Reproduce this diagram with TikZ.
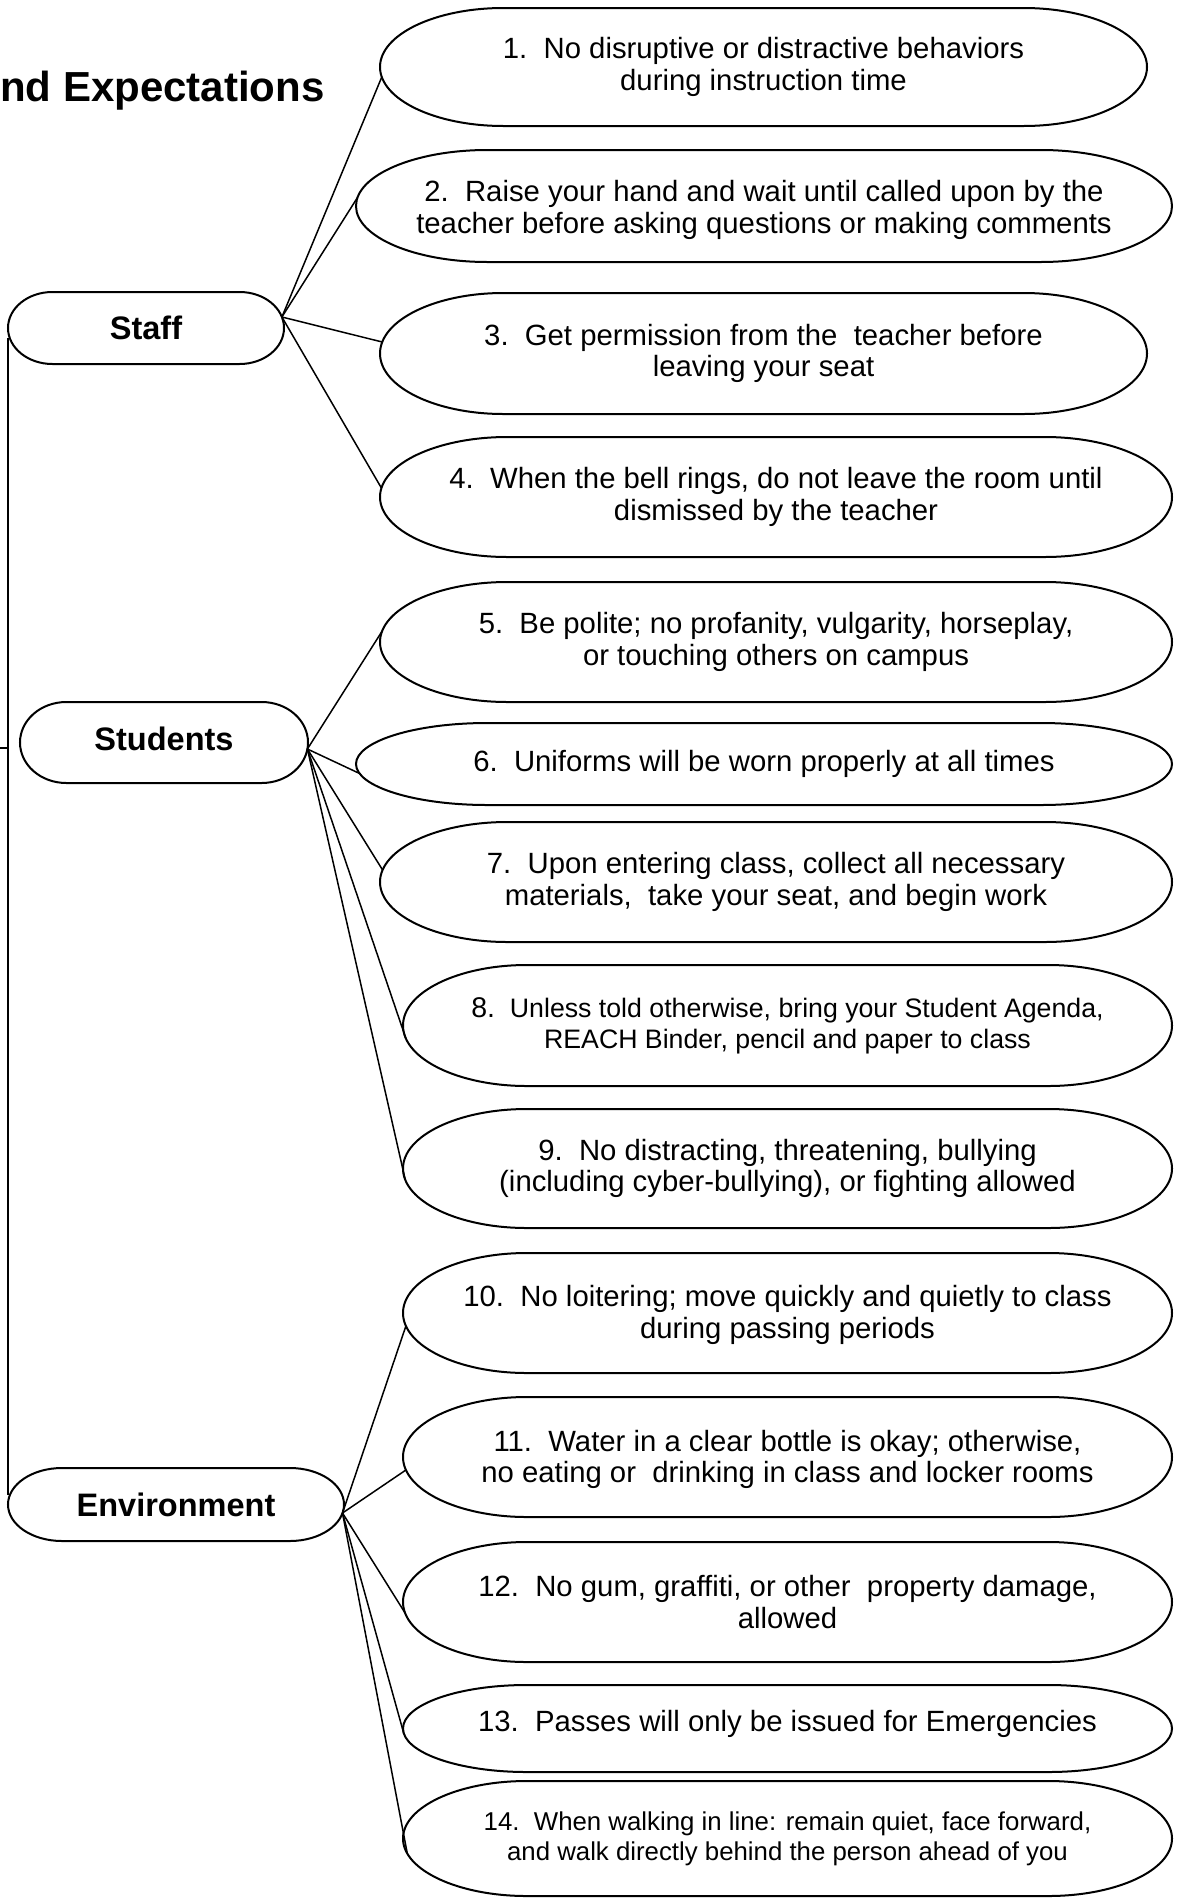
\documentclass[tikz,border=0pt]{standalone}
\usepackage{fontspec}
\setmainfont{Liberation Sans}
\usetikzlibrary{calc}

\tikzset{
  itembox/.style={shape=rectangle, inner sep=0pt, outer sep=0pt, align=center,
    font=\fontsize{29.3}{31.5}\selectfont},
  catbox/.style={shape=rectangle, inner sep=0pt, outer sep=0pt,
    font=\bfseries\fontsize{32.5}{38}\selectfont},
  outline/.style={draw=black, line width=2pt},
  conn/.style={draw=black, line width=1.5pt},
}

% invisible struts used to nudge a node's text up (depth) or down (height)
\newcommand\updepth[1]{\rule[-#1]{0pt}{1pt}}
\newcommand\dnheight[1]{\rule{0pt}{#1}}

% terminator outline (elliptic ends, straight top and bottom) round a named node
\newcommand\termpath[1]{%
  \draw[outline] let \p1=(#1.north west), \p2=(#1.south east),
     \n1={0.1609*(\x2-\x1)}, \n2={0.5*(\y1-\y2)} in
     ({\x1+\n1},\y1) -- ({\x2-\n1},\y1)
     arc[start angle=90, end angle=-90, x radius=\n1, y radius=\n2]
     -- ({\x1+\n1},\y2)
     arc[start angle=270, end angle=90, x radius=\n1, y radius=\n2]
     -- cycle;}

\begin{document}
\begin{tikzpicture}[x=1pt,y=-1pt]
\fill[white] (0,0) rectangle (1180,1898);
\useasboundingbox (0,0) rectangle (1180,1898);

% title (cropped on the left)
\node[anchor=base west, inner sep=0pt, font=\bfseries\fontsize{42}{50}\selectfont] (title) at (0,101) {nd Expectations};

% category nodes
\node[catbox, minimum width=276pt, minimum height=72pt] (staff) at (146,328) {Staff};
\node[catbox, minimum width=288pt, minimum height=81pt] (students) at (164,742.5) {Students\updepth{8pt}};
\node[catbox, minimum width=336pt, minimum height=73pt] (env) at (176,1504.5) {Environment};

% item nodes
\node[itembox, minimum width=767pt, minimum height=118pt] (i1) at (763.5,67)
  {1.~~No disruptive or distractive behaviors\\during instruction time};
\node[itembox, minimum width=816pt, minimum height=112pt] (i2) at (764,206)
  {\dnheight{29pt}2.~~Raise your hand and wait until called upon by the\\teacher before asking questions or making comments};
\node[itembox, minimum width=767pt, minimum height=121pt] (i3) at (763.5,353.5)
  {3.~~Get permission from the~~teacher before\\leaving your seat};
\node[itembox, minimum width=792pt, minimum height=120pt] (i4) at (776,497)
  {4.~~When the bell rings, do not leave the room until\\dismissed by the teacher};
\node[itembox, minimum width=792pt, minimum height=120pt] (i5) at (776,642)
  {5.~~Be polite; no profanity, vulgarity, horseplay,\\or touching others on campus};
\node[itembox, minimum width=816pt, minimum height=82pt] (i6) at (764,764)
  {6.~~Uniforms will be worn properly at all times};
\node[itembox, minimum width=792pt, minimum height=120pt] (i7) at (776,882)
  {7.~~Upon entering class, collect all necessary\\materials,~~take your seat, and begin work};
\node[itembox, minimum width=769pt, minimum height=121pt, font=\fontsize{26.7}{31}\selectfont] (i8) at (787.5,1025.5)
  {{\fontsize{28.5}{31}\selectfont 8.}~~Unless told otherwise, bring your Student Agenda,\\REACH Binder, pencil and paper to class};
\node[itembox, minimum width=769pt, minimum height=119pt] (i9) at (787.5,1168.5)
  {9.~~No distracting, threatening, bullying\\(including cyber-bullying), or fighting allowed};
\node[itembox, minimum width=769pt, minimum height=120pt] (i10) at (787.5,1313)
  {\dnheight{25pt}10.~~No loitering; move quickly and quietly to class\\during passing periods};
\node[itembox, minimum width=769pt, minimum height=120pt] (i11) at (787.5,1457)
  {\dnheight{26pt}11.~~Water in a clear bottle is okay; otherwise,\\no eating or~~drinking in class and locker rooms};
\node[itembox, minimum width=769pt, minimum height=120pt] (i12) at (787.5,1602)
  {12.~~No gum, graffiti, or other~~property damage,\\allowed};
\node[itembox, minimum width=769pt, minimum height=87pt] (i13) at (787.5,1728.5)
  {13.~~Passes will only be issued for Emergencies\updepth{16pt}};
\node[itembox, minimum width=769pt, minimum height=115pt, font=\fontsize{25.8}{30}\selectfont] (i14) at (787.5,1838.5)
  {14.~~When walking in line: remain quiet, face forward,\\and walk directly behind the person ahead of you};

% outlines
\foreach \nd in {staff,students,env,i1,i2,i3,i4,i5,i6,i7,i8,i9,i10,i11,i12,i13,i14}
  {\termpath{\nd}}

% left bracket from the (cropped) root
\coordinate (root) at (0,748);
\draw[conn] ([yshift=-10pt]staff.west) -- ([yshift=10pt]env.west);
\draw[conn] (root) -- (root -| staff.west);

% hubs
\coordinate (sthub) at ([xshift=-2.1pt,yshift=11pt]staff.east);
\coordinate (suhub) at ([xshift=-0.6pt,yshift=-6.5pt]students.east);
\coordinate (enhub) at ([xshift=-1.5pt,yshift=-8.5pt]env.east);

% connectors
\draw[conn] (sthub) -- ([xshift=1.8pt,yshift=-10pt]i1.west);
\draw[conn] (sthub) -- ([xshift=1.5pt,yshift=8.5pt]i2.west);
\draw[conn] (sthub) -- ([xshift=2.2pt,yshift=11.5pt]i3.west);
\draw[conn] (sthub) -- ([xshift=1.4pt,yshift=9pt]i4.west);

\draw[conn] (suhub) -- ([xshift=2.2pt,yshift=11pt]i5.west);
\draw[conn] (suhub) -- ([xshift=3.6pt,yshift=-9.5pt]i6.west);
\draw[conn] (suhub) -- ([xshift=2.6pt,yshift=12pt]i7.west);
\draw[conn] (suhub) -- ([xshift=2.7pt,yshift=-12.5pt]i8.west);
\draw[conn] (suhub) -- ([xshift=2.3pt,yshift=-11.5pt]i9.west);

\draw[conn] (enhub) -- ([xshift=2.9pt,yshift=-13pt]i10.west);
\draw[conn] (enhub) -- ([xshift=2.9pt,yshift=-13pt]i11.west);
\draw[conn] (enhub) -- ([xshift=2.1pt,yshift=-11pt]i12.west);
\draw[conn] (enhub) -- ([xshift=0.8pt,yshift=-5pt]i13.west);
\draw[conn] (enhub) -- ([xshift=4.3pt,yshift=-15pt]i14.west);
\end{tikzpicture}
\end{document}
